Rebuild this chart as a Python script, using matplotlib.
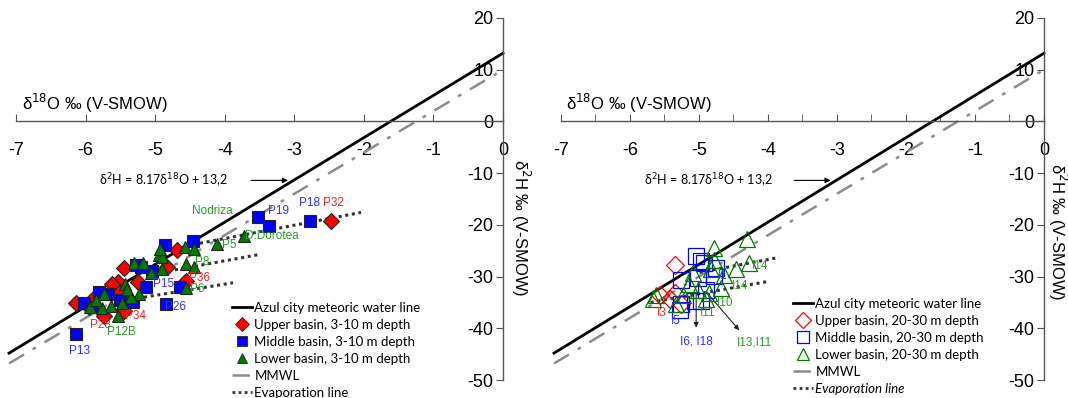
import numpy as np
import matplotlib
matplotlib.use("Agg")
import matplotlib.pyplot as plt
from matplotlib.lines import Line2D

plt.rcParams["axes.unicode_minus"] = False

# ---- data ----
# meteoric water lines
line_x = [-7.1, 0.0]
azul_slope, azul_icept = 8.17, 13.2
mmwl_slope, mmwl_icept = 8.0, 10.0

# left panel, 3-10 m depth
upper_sh_x = [-2.47, -4.69, -5.44, -5.54, -4.55, -5.25, -4.83, -6.14, -5.87, -5.73, -5.44, -5.54, -5.62, -5.95]
upper_sh_y = [-19.3, -24.9, -28.4, -31.1, -30.8, -31.1, -28.2, -35.2, -34.0, -37.6, -36.6, -32.8, -31.5, -35.8]
middle_sh_x = [-6.13, -3.52, -3.36, -2.77, -4.86, -4.45, -5.13, -4.64, -4.84, -6.02, -5.68, -5.28, -5.32, -5.04, -5.80, -5.90, -5.50, -5.20]
middle_sh_y = [-41.1, -18.4, -20.2, -19.2, -23.8, -23.2, -32.0, -32.1, -35.3, -35.2, -33.4, -27.8, -35.0, -28.9, -33.0, -35.8, -34.6, -28.2]
lower_sh_x = [-3.72, -4.11, -4.57, -4.44, -4.95, -4.90, -5.30, -5.17, -4.55, -4.44, -4.90, -5.06, -5.43,
              -4.55, -5.73, -5.23, -5.35, -5.94, -5.77, -5.63, -5.54, -5.48, -5.85, -4.93, -5.40]
lower_sh_y = [-22.1, -23.7, -24.2, -24.7, -25.8, -26.3, -27.3, -27.3, -27.5, -28.1, -28.5, -29.4, -31.5,
              -32.2, -33.4, -33.4, -34.0, -35.9, -36.0, -35.7, -37.6, -35.2, -34.6, -24.6, -32.4]
evap_sh_x = [[-4.45, -2.04], [-5.0, -3.53], [-5.35, -3.88]]
evap_sh_y = [[-23.8, -17.6], [-29.4, -25.8], [-34.4, -31.2]]
names_sh = ["Nodriza", "P19", "P18", "P32", "D.Dorotea", "P5", "P8", "P36", "P15", "P6", "P26", "P34", "P28", "P12B", "P13"]
names_sh_x = [-4.18, -3.23, -2.78, -2.44, -3.32, -3.94, -4.32, -4.36, -4.88, -4.39, -4.70, -5.28, -5.78, -5.48, -6.09]
names_sh_y = [-17.4, -17.4, -15.7, -15.7, -22.2, -23.8, -27.1, -30.2, -31.5, -32.5, -35.8, -37.7, -39.3, -40.8, -44.3]
names_sh_grp = ["lower", "middle", "middle", "upper", "lower", "lower", "lower", "upper", "middle", "lower", "middle", "upper", "upper", "lower", "middle"]

# right panel, 20-30 m depth
upper_dp_x = [-5.35, -5.57, -5.42, -5.35, -5.26]
upper_dp_y = [-27.7, -33.5, -34.4, -33.1, -35.4]
middle_dp_x = [-5.04, -4.97, -4.92, -4.75, -4.78, -5.26, -5.02, -5.06, -4.97, -5.26, -5.27, -4.90]
middle_dp_y = [-26.1, -27.0, -27.3, -28.3, -29.9, -30.6, -30.2, -34.8, -34.8, -35.4, -36.4, -32.5]
lower_dp_x = [-4.30, -4.78, -4.47, -4.28, -4.63, -4.68, -4.85, -4.90, -5.14, -5.02, -5.62, -5.66, -5.23, -5.33, -5.09, -4.83, -4.78]
lower_dp_y = [-22.8, -24.4, -28.6, -27.3, -29.6, -32.2, -33.1, -34.4, -31.5, -32.5, -33.5, -34.4, -33.5, -35.4, -29.3, -28.6, -26.7]
evap_dp_x = [[-4.99, -3.84], [-5.7, -3.98]]
evap_dp_y = [[-29.2, -26.3], [-35.0, -30.9]]
names_dp = ["I3", "I5", "I11", "I10", "I14", "I14", "I1"]
names_dp_x = [-5.54, -5.33, -4.88, -4.62, -4.41, -4.12, -4.65]
names_dp_y = [-37.1, -38.5, -37.1, -35.2, -31.9, -27.9, -29.8]
names_dp_grp = ["upper", "middle", "lower", "lower", "lower", "lower", "middle"]
arrows_dp = [("I6, I18", "middle", (-5.04, -32.9), (-5.04, -40.4), (-5.03, -42.5)),
             ("I13,I11", "lower", (-4.91, -32.7), (-4.39, -40.8), (-4.20, -42.7))]

legend_sh = ["Azul city meteoric water line", "Upper basin, 3-10 m depth", "Middle basin, 3-10 m depth",
             "Lower basin, 3-10 m depth", "MMWL", "Evaporation line"]
legend_dp = ["Azul city meteoric water line", "Upper basin, 20-30 m depth", "Middle basin, 20-30 m depth",
             "Lower basin, 20-30 m depth", "MMWL", "Evaporation line"]

# ---- style ----
fill_col = {"upper": "#ff0000", "middle": "#0000ff", "lower": "#007a00"}
text_col = {"upper": "#ff2020", "middle": "#3030ff", "lower": "#2a9a2a"}
marker = {"upper": "D", "middle": "s", "lower": "^"}
narrow = ["Liberation Sans", "DejaVu Sans"]
calib = ["Lato", "DejaVu Sans"]
mmwl_ls = (0, (7, 4, 1.5, 4))
evap_ls = (0, (1, 1.2))

fig = plt.figure(figsize=(10.68, 3.98), dpi=100)
ax1 = fig.add_axes([9 / 1068, 18 / 398, 494 / 1068, 362 / 398])
ax2 = fig.add_axes([554 / 1068, 18 / 398, 490 / 1068, 362 / 398])


def setup(ax, minor):
    ax.set_xlim(-7.1, 0)
    ax.set_ylim(-50, 20)
    ax.patch.set_visible(False)
    for s in ["top", "right"]:
        ax.spines[s].set_visible(False)
    ax.spines["left"].set_position(("data", 0))
    ax.spines["bottom"].set_position(("data", 0))
    ax.spines["bottom"].set_bounds(-7, 0)
    for s in ["left", "bottom"]:
        ax.spines[s].set_color("#555555")
        ax.spines[s].set_linewidth(1.0)
    ax.set_xticks(np.arange(-7, 1, 1))
    ax.set_yticks(np.arange(-50, 30, 10))
    if minor:
        ax.set_xticks(np.arange(-6.5, 0, 1), minor=True)
    ax.tick_params(axis="x", which="both", direction="in", length=5, pad=15, color="#555555",
                   labelsize=13)
    ax.tick_params(axis="y", direction="out", length=5, pad=2, color="#555555", labelsize=13)
    for lab in ax.get_xticklabels() + ax.get_yticklabels():
        lab.set_family(narrow)
    ax.text(-6.92, 3.5, r"δ$^{18}$O ‰ (V-SMOW)", fontsize=12, family="Liberation Sans", va="center")
    ax.text(-5.8, -11.5, r"δ$^{2}$H = 8.17δ$^{18}$O + 13,2", fontsize=9, family=calib, va="center")
    ax.annotate("", xy=(-3.05, -11.4), xytext=(-3.66, -11.4),
                arrowprops=dict(arrowstyle="-|>", color="black", lw=0.8, mutation_scale=8))
    xs = np.array(line_x)
    ax.plot(xs, azul_slope * xs + azul_icept, color="black", lw=2, clip_on=False, zorder=2)
    ax.plot(xs, mmwl_slope * xs + mmwl_icept, color="#8c8c8c", lw=1.8, ls=mmwl_ls, clip_on=False, zorder=2)


setup(ax1, False)
setup(ax2, True)

# left panel
for ex, ey in zip(evap_sh_x, evap_sh_y):
    ax1.plot(ex, ey, color="#333333", lw=2.2, ls=evap_ls, zorder=3)
for grp, xs, ys in [("upper", upper_sh_x, upper_sh_y), ("middle", middle_sh_x, middle_sh_y),
                    ("lower", lower_sh_x, lower_sh_y)]:
    ax1.plot(xs, ys, ls="none", marker=marker[grp], ms=9 if grp != "upper" else 8,
             mfc=fill_col[grp], mec="#222222", mew=0.8, zorder=4)
for n, x, y, g in zip(names_sh, names_sh_x, names_sh_y, names_sh_grp):
    ax1.text(x, y, n, color=text_col[g], fontsize=8.5, family=narrow, ha="center", va="center", zorder=5)

# right panel
for ex, ey in zip(evap_dp_x, evap_dp_y):
    ax2.plot(ex, ey, color="#333333", lw=2.2, ls=evap_ls, zorder=3)
for grp, xs, ys in [("upper", upper_dp_x, upper_dp_y), ("middle", middle_dp_x, middle_dp_y),
                    ("lower", lower_dp_x, lower_dp_y)]:
    ax2.plot(xs, ys, ls="none", marker=marker[grp], ms=11 if grp != "upper" else 9,
             mfc="none", mec=fill_col[grp], mew=0.9, zorder=4)
for n, x, y, g in zip(names_dp, names_dp_x, names_dp_y, names_dp_grp):
    ax2.text(x, y, n, color=text_col[g], fontsize=8.5, family=narrow, ha="center", va="center", zorder=5)
for n, g, p0, p1, pt in arrows_dp:
    ax2.annotate("", xy=p1, xytext=p0,
                 arrowprops=dict(arrowstyle="-|>", color="#222222", lw=0.8, mutation_scale=7))
    ax2.text(pt[0], pt[1], n, color=text_col[g], fontsize=8.5, family=narrow, ha="center", va="center")

# y labels
fig.text(521 / 1068, 1 - 228 / 398, r"δ$^{2}$H ‰ (V-SMOW)", rotation=-90, fontsize=12,
         family="Liberation Sans", ha="center", va="center")
fig.text(1058 / 1068, 1 - 232 / 398, r"δ$^{2}$H ‰ (V-SMOW)", rotation=-90, fontsize=12,
         family="Liberation Sans", ha="center", va="center")


def legend(ax, labels, filled, anchor):
    h = [Line2D([], [], color="black", lw=2)]
    for g in ["upper", "middle", "lower"]:
        if filled:
            h.append(Line2D([], [], ls="none", marker=marker[g], ms=7, mfc=fill_col[g], mec="#222222", mew=0.6))
        else:
            h.append(Line2D([], [], ls="none", marker=marker[g], ms=8, mfc="none", mec=fill_col[g], mew=0.9))
    h.append(Line2D([], [], color="#8c8c8c", lw=1.8, ls=mmwl_ls))
    h.append(Line2D([], [], color="#333333", lw=2, ls=evap_ls))
    leg = fig.legend(h, labels, loc="upper left", bbox_to_anchor=anchor, frameon=False,
                     prop={"family": calib, "size": 9.5}, handlelength=1.5, handletextpad=0.2,
                     labelspacing=0.38, borderpad=0, borderaxespad=0)
    if not filled:
        leg.get_texts()[-1].set_style("italic")
    return leg


legend(ax1, legend_sh, True, (232 / 1068, 1 - 302 / 398))
legend(ax2, legend_dp, False, (793 / 1068, 1 - 298 / 398))

fig.savefig("out.png", dpi=100)
